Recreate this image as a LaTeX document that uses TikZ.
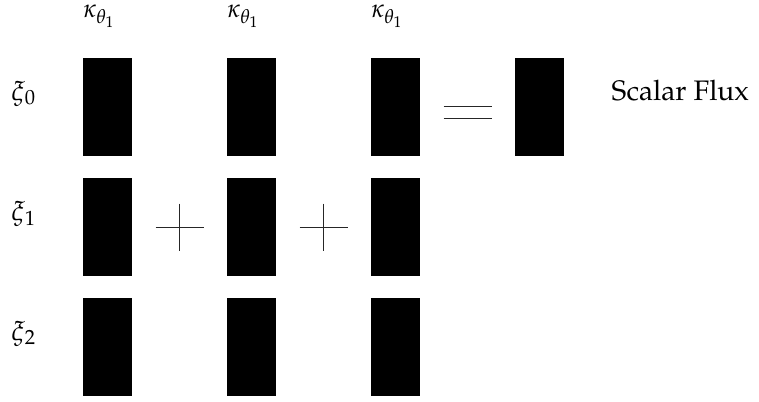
\documentclass[tikz,border=0pt]{standalone}
\usepackage[T1]{fontenc}
\usepackage{mathpazo}
\begin{document}
\begin{tikzpicture}[x=1pt,y=-1pt,
  cell/.style={fill=black,draw=none,inner sep=0pt,minimum width=49pt,minimum height=98pt},
  collabel/.style={anchor=base west,inner sep=0pt,font=\fontsize{26}{31}\selectfont},
  rowlabel/.style={anchor=base west,inner sep=0pt,font=\fontsize{27}{32}\selectfont},
  sym/.style={line width=0.9pt,black!85}]
\useasboundingbox (0,0) rectangle (759,401);

% grid of coefficient blocks
\foreach \c/\x in {1/107.5,2/251.5,3/395.5}{
  \foreach \r/\y in {0/107,1/227,2/347}{
    \node[cell] (b\r\c) at (\x,\y) {};
  }
}
\node[cell] (flux) at (539.5,107) {};

% column headings
\foreach \c/\x in {1/83,2/227,3/371}{
  \node[collabel] (k\c) at (\x,18) {$\kappa_{\theta_1}$};
}

% row headings
\node[rowlabel] (xi0) at (11,100) {$\xi_0$};
\node[rowlabel] (xi1) at (11,220) {$\xi_1$};
\node[rowlabel] (xi2) at (11,340) {$\xi_2$};

% plus signs between the blocks of the middle row
\foreach \x in {179.5,323.5}{
  \draw[sym] (\x-24,227) -- (\x+24,227);
  \draw[sym] (\x,203.5) -- (\x,250.5);
}

% equals sign
\draw[sym] (443.5,106.7) -- (491.5,106.7);
\draw[sym] (443.5,118.7) -- (491.5,118.7);

\node[anchor=base west,inner sep=0pt,font=\fontsize{28.2}{34}\selectfont] (label) at (611.5,101) {Scalar Flux};
\end{tikzpicture}
\end{document}
